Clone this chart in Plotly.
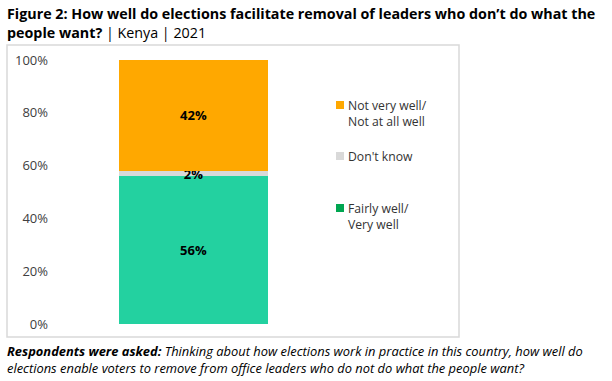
import plotly.graph_objects as go

categories = ["Kenya"]
series_names = ["Fairly well/<br>Very well", "Don't know", "Not very well/<br>Not at all well"]
values_fairly = [56]
values_dk = [2]
values_not = [42]
tick_vals = [0, 20, 40, 60, 80, 100]
tick_text = ["0%", "20%", "40%", "60%", "80%", "100%"]

bar_colors = ["#23D1A0", "#D9D9D9", "#FFA800"]
legend_colors = ["#00A651", "#D9D9D9", "#FFA800"]

FONT = "Open Sans"
W, H = 612, 381
L, R, T, B = 55, 280, 60, 57
pw = W - L - R
ph = H - T - B

def px(x):
    return (x - L) / pw

def py(y):
    return (H - B - y) / ph

fig = go.Figure()
for name, vals, col in zip(series_names, [values_fairly, values_dk, values_not], bar_colors):
    fig.add_trace(go.Bar(
        x=[0], y=vals, name=name, marker=dict(color=col, line=dict(width=0)),
        width=149 / pw, text=[f"{v}%" for v in vals], texttemplate="%{text}",
        textposition="inside", insidetextanchor="middle", constraintext="none",
        textfont=dict(family=FONT, size=13, color="black", weight="bold"),
        showlegend=False, hoverinfo="skip",
    ))

fig.update_layout(
    barmode="stack",
    width=W, height=H,
    margin=dict(l=L, r=R, t=T, b=B),
    paper_bgcolor="white", plot_bgcolor="white",
    uniformtext=dict(minsize=13, mode="show"),
    xaxis=dict(range=[-0.5, 0.5], visible=False, fixedrange=True),
    yaxis=dict(range=[0, 100], tickvals=tick_vals, ticktext=tick_text,
               showgrid=False, zeroline=False, showline=False, ticks="",
               ticklabelstandoff=6, fixedrange=True,
               tickfont=dict(family=FONT, size=13, color="#404040")),
    font=dict(family=FONT),
)

# chart box border
fig.add_shape(type="rect", xref="paper", yref="paper",
              x0=px(7), x1=px(459), y0=py(337), y1=py(45),
              line=dict(color="#D9D9D9", width=1.5), fillcolor="rgba(0,0,0,0)", layer="below")

# legend (custom positioned)
legend_y = [105, 156, 208]
legend_order = [2, 1, 0]
for yy, idx in zip(legend_y, legend_order):
    fig.add_shape(type="rect", xref="paper", yref="paper",
                  x0=px(336), x1=px(344), y0=py(yy + 4), y1=py(yy - 4),
                  fillcolor=legend_colors[idx], line=dict(width=0))
    fig.add_annotation(xref="paper", yref="paper", x=px(346), y=py(yy - 10),
                       xanchor="left", yanchor="top", align="left",
                       text=series_names[idx], showarrow=False,
                       font=dict(family=FONT, size=12.2, color="#333333"))

# title
fig.add_annotation(xref="paper", yref="paper", x=px(5), y=py(2), xanchor="left", yanchor="top",
                   align="left", showarrow=False,
                   text="<b>Figure 2: How well do elections facilitate removal of leaders who don\u2019t do what the<br>people want?</b> | Kenya | 2021",
                   font=dict(family=FONT, size=14.3, color="black"))

# footnote
fig.add_annotation(xref="paper", yref="paper", x=px(5), y=py(360), xanchor="left", yanchor="middle",
                   align="left", showarrow=False,
                   text="<b><i>Respondents were asked:</i></b> <i>Thinking about how elections work in practice in this country, how well do</i><br>"
                        "<i>elections enable voters to remove from office leaders who do not do what the people want?</i>",
                   font=dict(family=FONT, size=12.9, color="black"))

fig.write_html("out.html", config={"displayModeBar": False},
               post_script="document.body.style.margin='0';document.body.style.padding='0';")
